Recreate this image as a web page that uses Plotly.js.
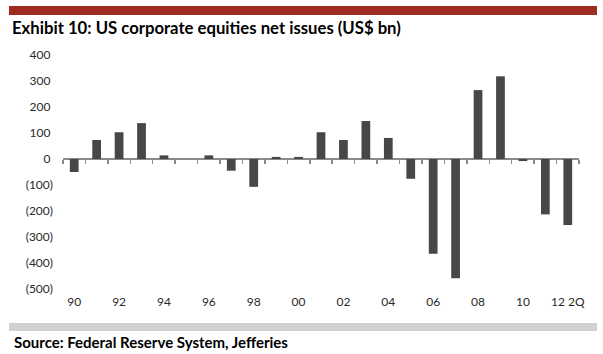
<!DOCTYPE html>
<html>
<head>
<meta charset="utf-8">
<script src="https://cdn.plot.ly/plotly-3.0.1.min.js"></script>
<style>html,body{margin:0;padding:0;background:#fff;}#chart{width:603px;height:354px;}</style>
</head>
<body>
<div id="chart"></div>
<script>
// Categories (years) and net issues (US$ bn)
const categories = ["1990","1991","1992","1993","1994","1995","1996","1997","1998","1999","2000","2001","2002","2003","2004","2005","2006","2007","2008","2009","2010","2011","12 2Q"];
const netIssues = [-50, 73, 103, 138, 14, 0, 14, -45, -107, 8, 8, 103, 73, 146, 81, -76, -364, -459, 265, 318, -8, -213, -254];
const xTickLabels = ["90","","92","","94","","96","","98","","00","","02","","04","","06","","08","","10","","12 2Q"];
const yTickVals = [400,300,200,100,0,-100,-200,-300,-400,-500];
const yTickText = ["400\u2008","300\u2008","200\u2008","100\u2008","0\u2008","(100)","(200)","(300)","(400)","(500)"];

const yMin = -500, yMax = 400;
const zeroPos = (0 - yMin) / (yMax - yMin);
const plotH = 234;

const trace = {
  type: 'bar',
  x: categories,
  y: netIssues,
  marker: {color: '#474747', line: {width: 0}},
  hoverinfo: 'x+y'
};

const font = 'Lato, "Open Sans", sans-serif';

const layout = {
  width: 603, height: 354,
  margin: {l: 63, r: 24, t: 55, b: 65},
  paper_bgcolor: '#fff', plot_bgcolor: '#fff',
  showlegend: false,
  bargap: 0.61,
  font: {family: font, size: 12, color: '#2a2a2a'},
  title: {
    text: '<b>Exhibit 10: US corporate equities net issues (US$ bn)</b>',
    font: {family: font, size: 16.7, color: '#000'},
    x: 12/603, xref: 'container', xanchor: 'left',
    y: 1 - 28/354, yref: 'container', yanchor: 'middle'
  },
  xaxis: {
    type: 'category',
    anchor: 'free', position: zeroPos,
    layer: 'below traces',
    showline: true, linecolor: '#8a8a8a', linewidth: 2,
    ticks: 'outside', tickson: 'boundaries', ticklen: 4, tickcolor: '#8a8a8a', tickwidth: 1.5,
    tickmode: 'array', tickvals: categories, ticktext: xTickLabels,
    tickangle: 0,
    ticklabelstandoff: Math.round(plotH * zeroPos) + 2,
    tickfont: {family: font, size: 12, color: '#2a2a2a'},
    showgrid: false, zeroline: false,
    fixedrange: true
  },
  yaxis: {
    range: [yMin, yMax],
    tickmode: 'array', tickvals: yTickVals, ticktext: yTickText,
    showline: false, showgrid: false, zeroline: false, ticks: '',
    ticklabelstandoff: 9,
    tickfont: {family: font, size: 12, color: '#2a2a2a'}
  },
  shapes: [
    {type: 'rect', xref: 'paper', yref: 'paper', x0: (9-63)/516, x1: (597-63)/516, y0: (289-15)/234, y1: (289-6)/234, fillcolor: '#a02b20', line: {width: 0}},
    {type: 'rect', xref: 'paper', yref: 'paper', x0: (9-63)/516, x1: (597-63)/516, y0: (289-331)/234, y1: (289-323)/234, fillcolor: '#d0d1d3', line: {width: 0}}
  ],
  annotations: [
    {text: '<b>Source: Federal Reserve System, Jefferies</b>', xref: 'paper', yref: 'paper', x: (12-63)/516, y: (289-342)/234, xanchor: 'left', yanchor: 'middle', showarrow: false, font: {family: font, size: 15, color: '#000'}}
  ]
};

Plotly.newPlot('chart', [trace], layout, {staticPlot: true, displayModeBar: false});
</script>
</body>
</html>
